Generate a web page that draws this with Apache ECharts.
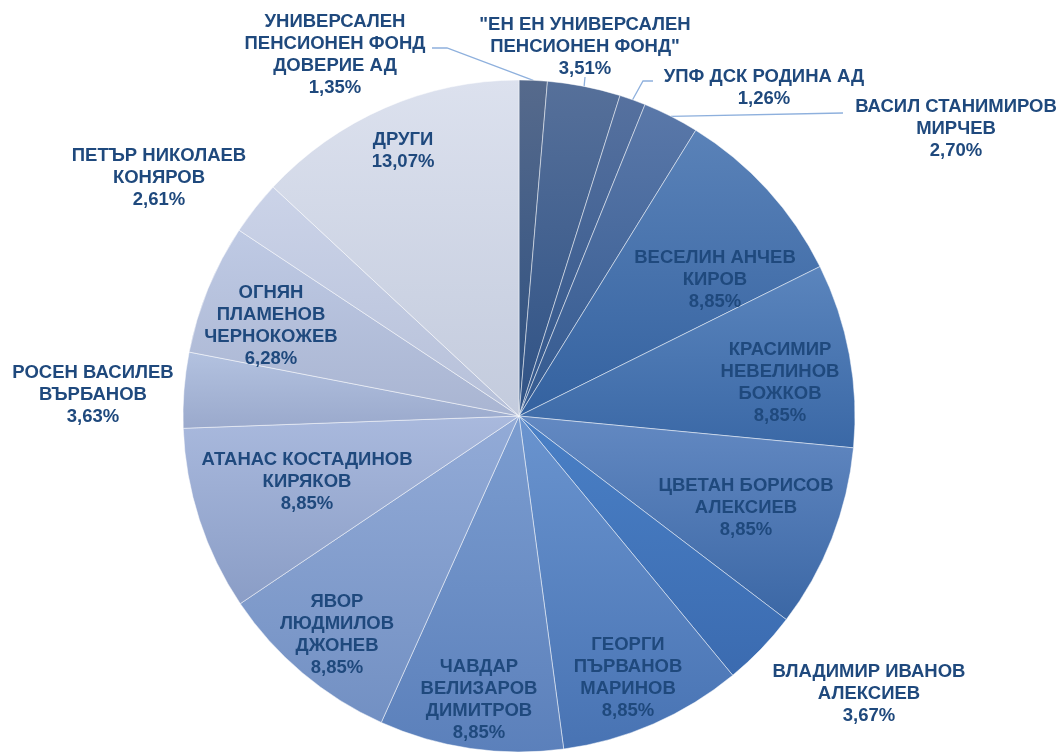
<!DOCTYPE html>
<html>
<head>
<meta charset="utf-8">
<script src="https://cdn.jsdelivr.net/npm/echarts@6/dist/echarts.min.js"></script>
<style>
  html, body { margin: 0; padding: 0; background: #fff; }
  #main { width: 1061px; height: 753px; }
</style>
</head>
<body>
<div id="main"></div>
<script>
var names = [
    'УНИВЕРСАЛЕН\nПЕНСИОНЕН ФОНД\nДОВЕРИЕ АД',
    '"ЕН ЕН УНИВЕРСАЛЕН\nПЕНСИОНЕН ФОНД"',
    'УПФ ДСК РОДИНА АД',
    'ВАСИЛ СТАНИМИРОВ\nМИРЧЕВ',
    'ВЕСЕЛИН АНЧЕВ\nКИРОВ',
    'КРАСИМИР\nНЕВЕЛИНОВ\nБОЖКОВ',
    'ЦВЕТАН БОРИСОВ\nАЛЕКСИЕВ',
    'ВЛАДИМИР ИВАНОВ\nАЛЕКСИЕВ',
    'ГЕОРГИ\nПЪРВАНОВ\nМАРИНОВ',
    'ЧАВДАР\nВЕЛИЗАРОВ\nДИМИТРОВ',
    'ЯВОР\nЛЮДМИЛОВ\nДЖОНЕВ',
    'АТАНАС КОСТАДИНОВ\nКИРЯКОВ',
    'РОСЕН ВАСИЛЕВ\nВЪРБАНОВ',
    'ОГНЯН\nПЛАМЕНОВ\nЧЕРНОКОЖЕВ',
    'ПЕТЪР НИКОЛАЕВ\nКОНЯРОВ',
    'ДРУГИ'
];
var shares = [1.35, 3.51, 1.26, 2.70, 8.85, 8.85, 8.85, 3.67, 8.85, 8.85, 8.85, 8.85, 3.63, 6.28, 2.61, 13.07];

// vertical gradient of each slice: top colour -> bottom colour
var colorTop = ['#566a8c', '#56709a', '#56719f', '#5a78a9', '#5a82b8', '#5b85bd', '#6389c2', '#4a80c6',
                '#6a94cf', '#7c9dd0', '#93abd7', '#a9b9dd', '#b3c2e0', '#bfcae4', '#cbd3e8', '#dce1ee'];
var colorBottom = ['#2c4f80', '#2f5285', '#30558a', '#33598f', '#3462a0', '#3a68a6', '#3b67a5', '#3b6bb0',
                   '#4873b3', '#5b80bb', '#7290c3', '#8a9dc6', '#9aa9cc', '#a9b5d2', '#b6c0d9', '#c3cbdd'];

// label centres (layout only) and which labels sit outside
var labelAt = [[335, 55], [585, 47], [764, 88], [956, 129], [715, 280], [780, 383], [746, 508], [869, 694],
               [628, 678], [479, 700], [337, 635], [307, 482], [93, 395], [271, 326], [159, 178], [403, 151]];
var outside = [true, true, true, true, false, false, false, true, false, false, false, false, true, false, true, false];
// elbow points of leader lines, from slice side towards the label
var leaders = {
    0: [[447, 48], [432, 48]],
    1: [[585, 77]],
    2: [[643, 81], [653, 81]],
    3: [[843, 113]]
};

var CX = 519, CY = 416, R = 336;

var total = 0;
for (var i = 0; i < shares.length; i++) total += shares[i];
var midAngle = [];
var acc = 0;
for (var i = 0; i < shares.length; i++) {
    midAngle.push((acc + shares[i] / 2) / total * Math.PI * 2);
    acc += shares[i];
}

var data = [];
for (var i = 0; i < names.length; i++) {
    data.push({
        name: names[i],
        value: shares[i],
        itemStyle: {
            color: new echarts.graphic.LinearGradient(0, 0, 0, 1, [
                { offset: 0, color: colorTop[i] },
                { offset: 1, color: colorBottom[i] }
            ])
        },
        label: { position: outside[i] ? 'outside' : 'inside' },
        labelLine: { show: leaders[i] != null }
    });
}

var myChart = echarts.init(document.getElementById('main'));
var option = {
    animation: false,
    series: [{
        type: 'pie',
        center: [CX, CY],
        radius: R,
        startAngle: 90,
        clockwise: true,
        avoidLabelOverlap: false,
        data: data,
        itemStyle: {
            borderColor: 'rgba(255,255,255,0.6)',
            borderWidth: 0.8
        },
        label: {
            color: '#1F497D',
            fontFamily: 'Liberation Sans, Arial, sans-serif',
            fontWeight: 'bold',
            fontSize: 18.5,
            lineHeight: 22,
            align: 'center',
            formatter: function (p) {
                return p.name + '\n' + p.value.toFixed(2).replace('.', ',') + '%';
            }
        },
        labelLine: {
            lineStyle: { color: '#8eb0dd', width: 1.3 }
        },
        labelLayout: function (params) {
            var i = params.dataIndex;
            var res = {
                x: labelAt[i][0],
                y: labelAt[i][1],
                align: 'center',
                verticalAlign: 'middle'
            };
            if (leaders[i]) {
                var a = midAngle[i];
                var edge = [CX + R * Math.sin(a), CY - R * Math.cos(a)];
                var pts = [edge];
                var el = leaders[i];
                for (var k = 0; k < el.length; k++) pts.push(el[k]);
                while (pts.length < 3) pts.push(pts[pts.length - 1]);
                res.labelLinePoints = pts;
            }
            return res;
        }
    }]
};
myChart.setOption(option);
</script>
</body>
</html>
